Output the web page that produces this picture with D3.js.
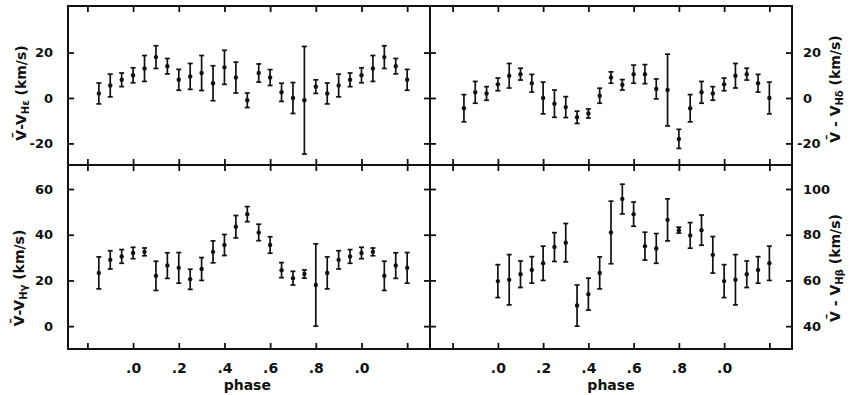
<!DOCTYPE html>
<html>
<head>
<meta charset="utf-8">
<script src="https://cdn.jsdelivr.net/npm/d3@7"></script>
<style>
  body { margin: 0; background: #fff; }
  svg { display: block; }
  text { font-family: 'DejaVu Sans', sans-serif; font-weight: bold; fill: #111; }
</style>
</head>
<body>
<svg id="chart" width="854" height="395"></svg>
<script>
// base phases of the measurements (plotted again one cycle earlier / later)
const phases = [0, 0.05, 0.1, 0.15, 0.2, 0.25, 0.3, 0.35, 0.4, 0.45,
                0.5, 0.55, 0.6, 0.65, 0.7, 0.75, 0.8, 0.85, 0.9, 0.95];

// V - V(H epsilon), km/s
const hEpsVal = [10, 13, 18, 14, 8, 9.5, 11, 6.5, 13.5, 9, -1, 11, 9, 2.5, 0, -1, 5, 2, 5.5, 8];
const hEpsErr = [3.3, 5.7, 5, 3.4, 4.6, 5.7, 7.7, 7.7, 7.5, 6.8, 3.2, 4, 3.5, 4, 6.8, 23.7, 3, 4.6, 5, 3];

// V - V(H delta)
const hDelVal = [6, 9.8, 10.5, 6.5, 0, -2.5, -4, -8.5, -6.8, 1, 9, 5.8, 10.5, 10.5, 4, 3.5, -18, -4.5, 2.5, 2];
const hDelErr = [2.8, 5.4, 2.6, 3.9, 7, 6, 4.6, 2.7, 2, 3.3, 2.5, 2.3, 4, 4.2, 4.4, 15.8, 4.2, 6, 4.8, 3];

// V - V(H gamma)
const hGamVal = [32, 32.5, 22, 26.5, 25.5, 20.5, 25, 32.5, 35.5, 43.5, 49, 41, 35.5, 24.5, 21, 22.8, 18, 23.3, 29, 30.5];
const hGamErr = [2.5, 1.7, 6.4, 5.6, 6.7, 4.4, 5, 4.8, 4.6, 4.9, 3.3, 3.6, 3.6, 3.3, 3, 1.8, 18, 7, 4, 3];

// V - V(H beta)
const hBetVal = [59.7, 60.3, 62.7, 64.6, 67.5, 74.6, 76.5, 49, 54, 63.3, 81, 95.6, 89, 75, 74, 86.5, 82, 79.7, 82, 71.2];
const hBetErr = [7.2, 11, 5.8, 5.8, 7.5, 6.3, 8.4, 9, 7, 7, 13.7, 6.5, 5.3, 6.1, 6.5, 9.2, 1.3, 5.6, 6.6, 8];

const phaseTicks = [-0.2, 0, 0.2, 0.4, 0.6, 0.8, 1.0, 1.2];
const phaseLabels = ['', '.0', '.2', '.4', '.6', '.8', '.0', ''];
const topTicks = [-20, 0, 20];
const hGamTicks = [0, 20, 40, 60];
const hBetTicks = [40, 60, 80, 100];

const svg = d3.select('#chart');
const xs = [68, 430, 792];
const ys = [6, 165, 349];
const tick = 6;

const panels = [
  { val: hEpsVal, err: hEpsErr, range: [-0.15, 1.2], xDom: [-0.285, 1.3], yDom: [-29.5, 40.5], ticks: topTicks, col: 0, row: 0, sub: 'Hε', lead: 'V̄-V', lx: 22, ly: 93 },
  { val: hDelVal, err: hDelErr, range: [-0.15, 1.2], xDom: [-0.3, 1.3], yDom: [-29.5, 40.5], ticks: topTicks, col: 1, row: 0, sub: 'Hδ', lead: 'V̄ - V', lx: 836, ly: 89 },
  { val: hGamVal, err: hGamErr, range: [-0.15, 1.2], xDom: [-0.285, 1.3], yDom: [-10, 70.5], ticks: hGamTicks, col: 0, row: 1, sub: 'Hγ', lead: 'V̄-V', lx: 20, ly: 278 },
  { val: hBetVal, err: hBetErr, range: [0, 1.2], xDom: [-0.3, 1.3], yDom: [30, 110.5], ticks: hBetTicks, col: 1, row: 1, sub: 'Hβ', lead: 'V̄ - V', lx: 836, ly: 268 }
];

function styleAxis(g) {
  g.select('.domain').remove();
  g.selectAll('line').attr('stroke', '#111').attr('stroke-width', 1.8);
  g.selectAll('text').attr('font-family', null).attr('font-size', 13).attr('fill', '#111');
}

panels.forEach(p => {
  const left = xs[p.col], right = xs[p.col + 1];
  const top = ys[p.row], bottom = ys[p.row + 1];

  const x = d3.scaleLinear().domain(p.xDom).range([left, right]);
  const y = d3.scaleLinear().domain(p.yDom).range([bottom, top]);

  // repeat the cycle so the plotted phase range is covered
  const pts = [];
  [-1, 0, 1].forEach(k => {
    phases.forEach((ph, i) => {
      const f = ph + k;
      if (f > p.range[0] - 1e-6 && f < p.range[1] + 1e-6) pts.push({ f, v: p.val[i], e: p.err[i] });
    });
  });

  // axes, ticks pointing inward
  svg.append('g').attr('transform', `translate(0,${top})`)
    .call(d3.axisTop(x).tickValues(phaseTicks).tickSizeInner(-tick).tickSizeOuter(0).tickFormat(''))
    .call(styleAxis);

  svg.append('g').attr('transform', `translate(0,${bottom})`)
    .call(d3.axisBottom(x).tickValues(phaseTicks).tickSizeInner(-tick).tickSizeOuter(0).tickPadding(14)
      .tickFormat((d, i) => p.row === 1 ? phaseLabels[i] : ''))
    .call(styleAxis)
    .call(g => g.selectAll('text').attr('font-size', 14));

  svg.append('g').attr('transform', `translate(${left},0)`)
    .call(d3.axisLeft(y).tickValues(p.ticks).tickSizeInner(-tick).tickSizeOuter(0).tickPadding(15)
      .tickFormat(d => p.col === 0 ? String(d) : ''))
    .call(styleAxis);

  svg.append('g').attr('transform', `translate(${right},0)`)
    .call(d3.axisRight(y).tickValues(p.ticks).tickSizeInner(-tick).tickSizeOuter(0).tickPadding(11)
      .tickFormat(d => p.col === 1 ? String(d) : ''))
    .call(styleAxis)
    .call(g => g.selectAll('text').attr('dx', d => d < 0 ? -6 : 0));

  // frame
  svg.append('rect')
    .attr('x', left).attr('y', top)
    .attr('width', right - left).attr('height', bottom - top)
    .attr('fill', 'none').attr('stroke', '#111').attr('stroke-width', 2);

  // error bars
  const bars = svg.append('g').attr('stroke', '#111').attr('stroke-width', 1.7);
  bars.selectAll('.bar').data(pts).enter().append('line')
    .attr('x1', d => x(d.f)).attr('x2', d => x(d.f))
    .attr('y1', d => y(d.v - d.e)).attr('y2', d => y(d.v + d.e));
  bars.selectAll('.capHi').data(pts).enter().append('line')
    .attr('x1', d => x(d.f) - 2.5).attr('x2', d => x(d.f) + 2.5)
    .attr('y1', d => y(d.v + d.e)).attr('y2', d => y(d.v + d.e));
  bars.selectAll('.capLo').data(pts).enter().append('line')
    .attr('x1', d => x(d.f) - 2.5).attr('x2', d => x(d.f) + 2.5)
    .attr('y1', d => y(d.v - d.e)).attr('y2', d => y(d.v - d.e));
  svg.append('g').selectAll('circle').data(pts).enter().append('circle')
    .attr('cx', d => x(d.f)).attr('cy', d => y(d.v))
    .attr('r', 2.2).attr('fill', '#111');

  // y label
  const lab = svg.append('text')
    .attr('transform', `translate(${p.lx},${p.ly}) rotate(-90)`)
    .attr('text-anchor', 'middle')
    .attr('dominant-baseline', 'middle')
    .attr('font-size', 14);
  lab.append('tspan').text(p.lead);
  lab.append('tspan').attr('font-size', 10).attr('dy', 4).text(p.sub);
  lab.append('tspan').attr('dy', -4).text(' (km/s)');

  if (p.row === 1) {
    svg.append('text')
      .attr('x', x(0.5)).attr('y', 390)
      .attr('text-anchor', 'middle')
      .attr('font-size', 14)
      .text('phase');
  }
});
</script>
</body>
</html>
